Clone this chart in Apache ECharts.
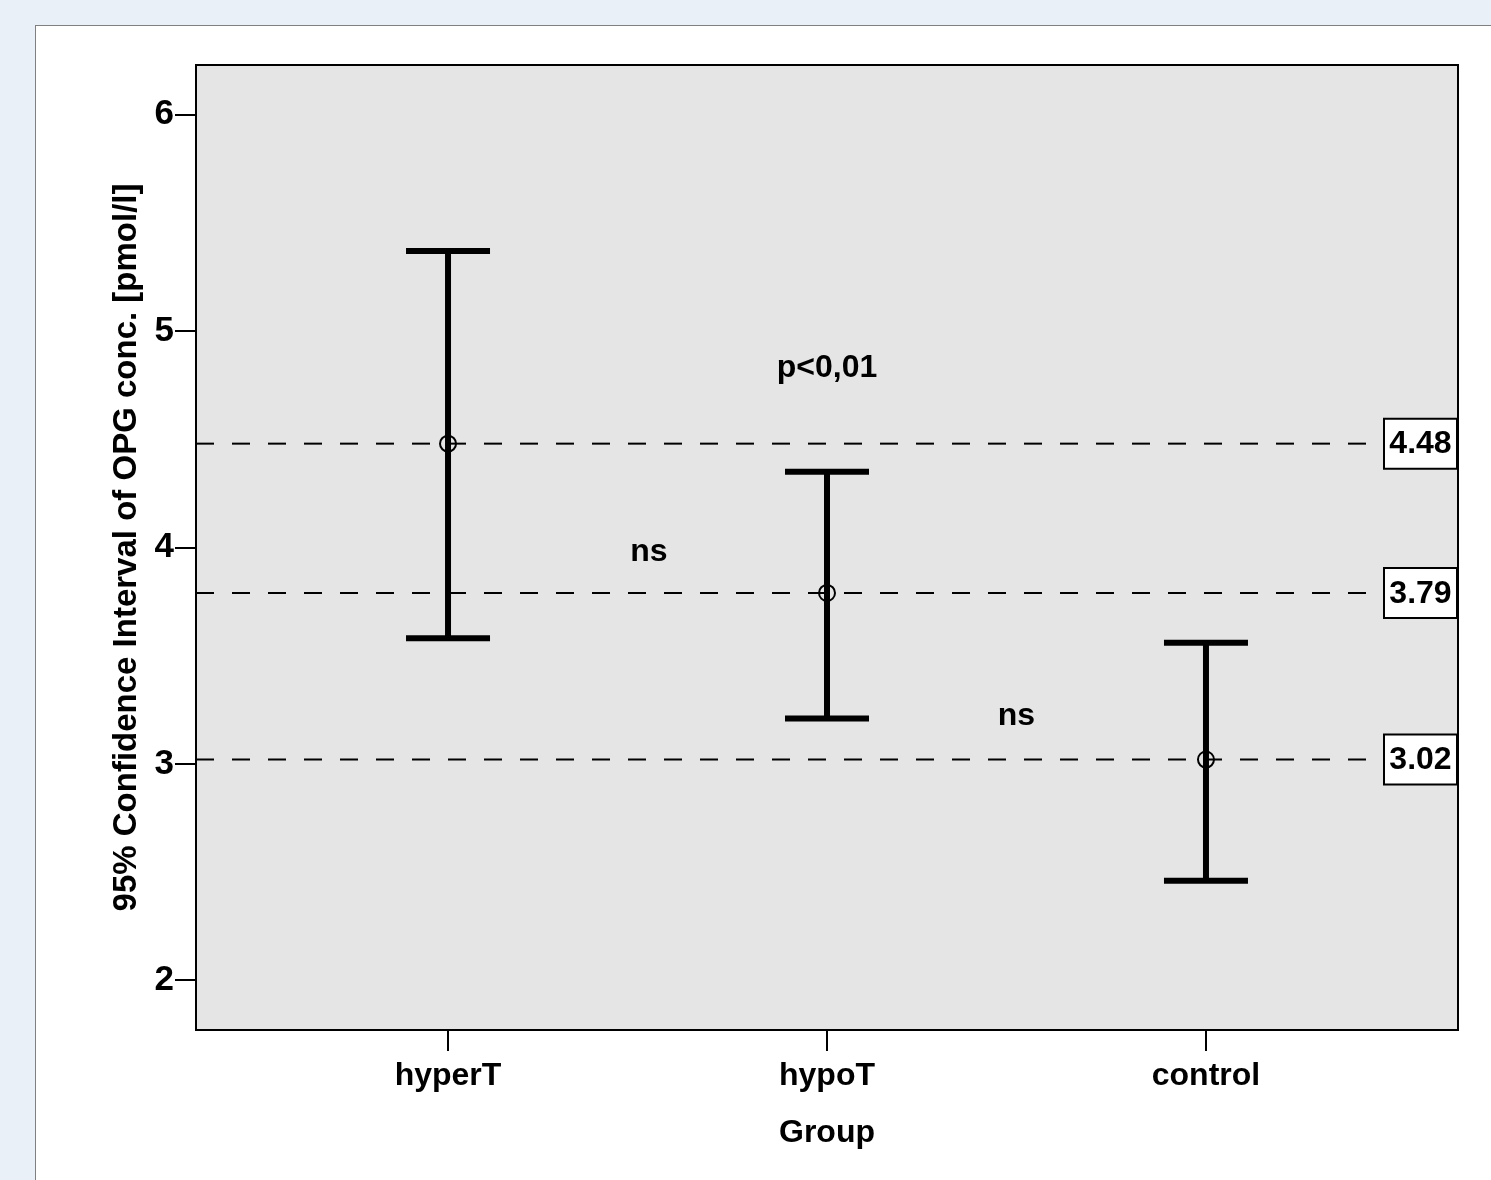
<!DOCTYPE html>
<html>
<head>
<meta charset="utf-8">
<script src="https://cdn.jsdelivr.net/npm/echarts@6/dist/echarts.min.js"></script>
<style>
html,body{margin:0;padding:0;width:1491px;height:1180px;overflow:hidden;background:#e9f0f8;}
#panel{position:absolute;left:35px;top:25px;width:1460px;height:1160px;background:#fff;border:1px solid #808080;box-sizing:border-box;}
#chart{position:absolute;left:0;top:0;width:1491px;height:1180px;}
</style>
</head>
<body>
<div id="panel"></div>
<div id="chart"></div>
<script>
// Data
const categories = ['hyperT', 'hypoT', 'control'];
const catPositions = [1, 2, 3];
const means = [4.48, 3.79, 3.02];
const lowerCI = [3.58, 3.21, 2.46];
const upperCI = [5.37, 4.35, 3.56];
const refValues = [4.48, 3.79, 3.02];
const refLabels = ['4.48', '3.79', '3.02'];
const yTicks = [2, 3, 4, 5, 6];
const annotations = [
  { x: 1.53, y: 3.98, text: 'ns' },
  { x: 2.0, y: 4.83, text: 'p<0,01' },
  { x: 2.5, y: 3.22, text: 'ns' }
];

const FONT = '"Liberation Sans", Arial, Helvetica, sans-serif';
const chart = echarts.init(document.getElementById('chart'), null, { renderer: 'canvas' });

const option = {
  backgroundColor: 'transparent',
  animation: false,
  grid: {
    left: 196, top: 65, right: 33, bottom: 150,
    show: true, backgroundColor: '#e5e5e5', borderColor: '#000', borderWidth: 2
  },
  xAxis: {
    type: 'value', min: 0.335, max: 3.665,
    name: 'Group', nameLocation: 'middle', nameGap: 87,
    nameTextStyle: { fontFamily: FONT, fontWeight: 'bold', fontSize: 32, color: '#000' },
    axisLine: { show: false },
    splitLine: { show: false },
    axisTick: { show: true, customValues: catPositions, length: 21, lineStyle: { color: '#000', width: 2 } },
    axisLabel: {
      show: true, customValues: catPositions, margin: 30,
      fontFamily: FONT, fontWeight: 'bold', fontSize: 32, color: '#000',
      formatter: function (v) { const i = catPositions.indexOf(Math.round(v)); return i >= 0 ? categories[i] : ''; }
    }
  },
  yAxis: {
    type: 'value', min: 1.77, max: 6.23,
    name: '95% Confidence Interval of OPG conc. [pmol/l]', nameLocation: 'middle', nameGap: 46,
    nameTextStyle: { fontFamily: FONT, fontWeight: 'bold', fontSize: 33, color: '#000' },
    axisLine: { show: false },
    splitLine: { show: false },
    axisTick: { show: true, customValues: yTicks, length: 21, lineStyle: { color: '#000', width: 2 } },
    axisLabel: {
      show: true, customValues: yTicks, margin: 22,
      fontFamily: FONT, fontWeight: 'bold', fontSize: 35, color: '#000'
    }
  },
  series: [
    {
      type: 'custom', name: 'ref', silent: true, z: 2,
      data: refValues.map((v, i) => [v, i]),
      encode: { y: 0 },
      renderItem: function (params, api) {
        const cs = params.coordSys;
        const y = api.coord([1, api.value(0)])[1];
        const right = cs.x + cs.width - 1;
        const boxW = 73, boxH = 50;
        const boxLeft = right - boxW;
        return {
          type: 'group',
          children: [
            { type: 'line', shape: { x1: cs.x, y1: y, x2: boxLeft, y2: y },
              style: { stroke: '#000', lineWidth: 2, lineDash: [18, 18] } },
            { type: 'rect', shape: { x: boxLeft, y: y - boxH / 2, width: boxW, height: boxH },
              style: { fill: '#fff', stroke: '#000', lineWidth: 2 } },
            { type: 'text', x: boxLeft + boxW / 2, y: y + 1,
              style: { text: refLabels[api.value(1)], fill: '#000', font: 'bold 32px ' + FONT,
                       align: 'center', verticalAlign: 'middle' } }
          ]
        };
      }
    },
    {
      type: 'custom', name: 'ci', silent: true, z: 3,
      data: catPositions.map((x, i) => [x, lowerCI[i], upperCI[i]]),
      encode: { x: 0, y: [1, 2] },
      renderItem: function (params, api) {
        const x = api.value(0);
        const lo = api.coord([x, api.value(1)]);
        const hi = api.coord([x, api.value(2)]);
        const half = 42;
        const st = { stroke: '#000', lineWidth: 6 };
        return {
          type: 'group',
          children: [
            { type: 'line', shape: { x1: lo[0], y1: lo[1], x2: hi[0], y2: hi[1] }, style: st },
            { type: 'line', shape: { x1: hi[0] - half, y1: hi[1], x2: hi[0] + half, y2: hi[1] }, style: st },
            { type: 'line', shape: { x1: lo[0] - half, y1: lo[1], x2: lo[0] + half, y2: lo[1] }, style: st }
          ]
        };
      }
    },
    {
      type: 'custom', name: 'mean', silent: true, z: 4,
      data: catPositions.map((x, i) => [x, means[i]]),
      encode: { x: 0, y: 1 },
      renderItem: function (params, api) {
        const p = api.coord([api.value(0), api.value(1)]);
        return { type: 'circle', shape: { cx: p[0], cy: p[1], r: 8 },
                 style: { fill: null, stroke: '#000', lineWidth: 2 } };
      }
    },
    {
      type: 'custom', name: 'annot', silent: true, z: 5,
      data: annotations.map((a, i) => [a.x, a.y, i]),
      encode: { x: 0, y: 1 },
      renderItem: function (params, api) {
        const p = api.coord([api.value(0), api.value(1)]);
        return { type: 'text', x: p[0], y: p[1],
                 style: { text: annotations[api.value(2)].text, fill: '#000', font: 'bold 32px ' + FONT,
                          align: 'center', verticalAlign: 'middle' } };
      }
    }
  ]
};
chart.setOption(option);
</script>
</body>
</html>
